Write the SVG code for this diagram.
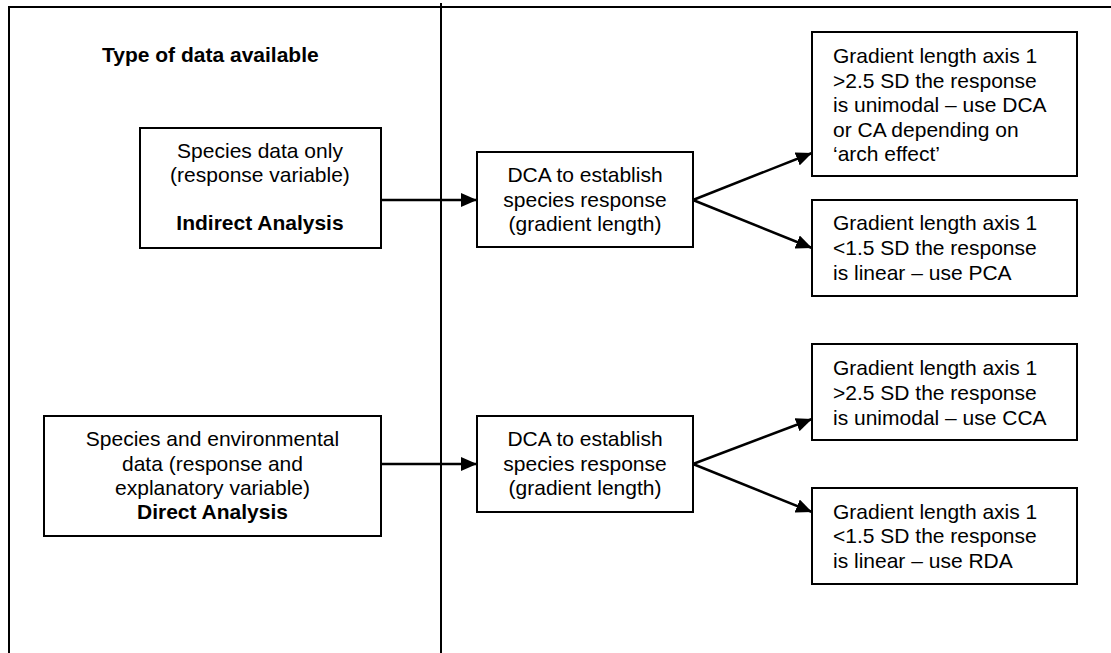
<svg xmlns="http://www.w3.org/2000/svg" width="1111" height="653" viewBox="0 0 1111 653">
<style>
.box{fill:#fff;stroke:#000;stroke-width:2}
.frame{fill:none;stroke:#000;stroke-width:2}
.t{font-family:"Liberation Sans",Arial,sans-serif;font-size:21px;fill:#000}
.c{text-anchor:middle}
.b{font-weight:bold}
.conn{fill:none;stroke:#000;stroke-width:2.5}
</style>
<defs>
<marker id="arr" markerUnits="userSpaceOnUse" markerWidth="16" markerHeight="14" refX="16" refY="7" orient="auto">
<path d="M0,0 L16,7 L0,14 Z" fill="#000"/>
</marker>
</defs>
<rect width="1111" height="653" fill="#fff"/>
<g id="frame">
<path class="frame" d="M9,653 V7 H1111"/>
<path class="frame" d="M441,3 V653"/>
<text class="t b" x="102" y="62">Type of data available</text>
</g>
<g id="connectors">
<path class="conn" d="M381,200 H477" marker-end="url(#arr)"/>
<path class="conn" d="M693,200 L812,153" marker-end="url(#arr)"/>
<path class="conn" d="M693,200 L812,248" marker-end="url(#arr)"/>
<path class="conn" d="M381,464 H477" marker-end="url(#arr)"/>
<path class="conn" d="M693,464 L812,419" marker-end="url(#arr)"/>
<path class="conn" d="M693,464 L812,512" marker-end="url(#arr)"/>
</g>
<g id="indirect">
<rect class="box" x="140" y="128" width="241" height="120"/>
<text class="t c" x="260" y="158">Species data only</text>
<text class="t c" x="260" y="182">(response variable)</text>
<text class="t c b" x="260" y="230">Indirect Analysis</text>
</g>
<g id="direct">
<rect class="box" x="44" y="416" width="337" height="120"/>
<text class="t c" x="212.5" y="446">Species and environmental</text>
<text class="t c" x="212.5" y="470.5">data (response and</text>
<text class="t c" x="212.5" y="495">explanatory variable)</text>
<text class="t c b" x="212.5" y="518.5">Direct Analysis</text>
</g>
<g id="dca1">
<rect class="box" x="477" y="152" width="216" height="95"/>
<text class="t c" x="585" y="182">DCA to establish</text>
<text class="t c" x="585" y="206.5">species response</text>
<text class="t c" x="585" y="231">(gradient length)</text>
</g>
<g id="dca2">
<rect class="box" x="477" y="416" width="216" height="96"/>
<text class="t c" x="585" y="446">DCA to establish</text>
<text class="t c" x="585" y="470.5">species response</text>
<text class="t c" x="585" y="495">(gradient length)</text>
</g>
<g id="unimodal1">
<rect class="box" x="812" y="32" width="265" height="144"/>
<text class="t" x="833" y="63">Gradient length axis 1</text>
<text class="t" x="833" y="87.5">&gt;2.5 SD the response</text>
<text class="t" x="833" y="112">is unimodal – use DCA</text>
<text class="t" x="833" y="136.5">or CA depending on</text>
<text class="t" x="833" y="161">‘arch effect’</text>
</g>
<g id="linear1">
<rect class="box" x="812" y="200" width="265" height="96"/>
<text class="t" x="833" y="230">Gradient length axis 1</text>
<text class="t" x="833" y="255">&lt;1.5 SD the response</text>
<text class="t" x="833" y="280">is linear – use PCA</text>
</g>
<g id="unimodal2">
<rect class="box" x="812" y="344" width="265" height="96"/>
<text class="t" x="833" y="374.5">Gradient length axis 1</text>
<text class="t" x="833" y="399.5">&gt;2.5 SD the response</text>
<text class="t" x="833" y="424.5">is unimodal – use CCA</text>
</g>
<g id="linear2">
<rect class="box" x="812" y="488" width="265" height="96"/>
<text class="t" x="833" y="518.5">Gradient length axis 1</text>
<text class="t" x="833" y="543">&lt;1.5 SD the response</text>
<text class="t" x="833" y="568">is linear – use RDA</text>
</g>
</svg>
